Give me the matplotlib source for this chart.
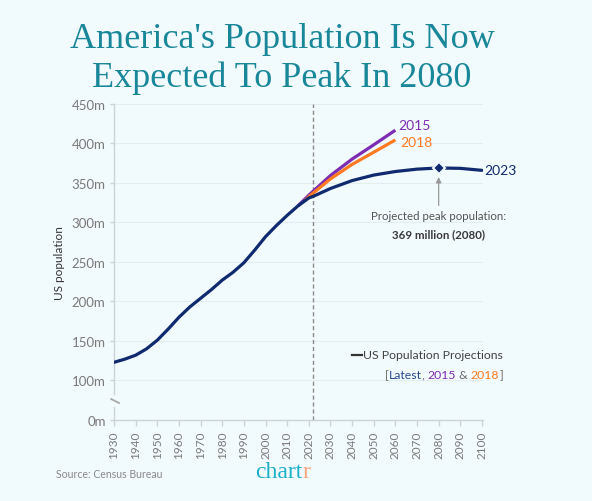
import matplotlib
matplotlib.use("Agg")
import matplotlib.pyplot as plt
from matplotlib.lines import Line2D

# ---------------- data ----------------
hist_years = [1930, 1935, 1940, 1945, 1950, 1955, 1960, 1965, 1970, 1975, 1980,
              1985, 1990, 1995, 2000, 2005, 2010, 2015, 2020, 2022]
hist_pop = [123, 127, 132, 140, 151, 165, 180, 193, 204, 215, 227,
            237, 249, 265, 282, 296, 309, 321, 331, 333]

proj2023_years = [2022, 2030, 2040, 2050, 2060, 2070, 2080, 2090, 2100]
proj2023_pop = [333, 343, 353, 360, 364.5, 367.5, 369, 368.5, 366]

proj2015_years = [2015, 2020, 2030, 2040, 2050, 2060]
proj2015_pop = [321, 334.5, 359.4, 380.2, 398.3, 416.8]

proj2018_years = [2018, 2020, 2030, 2040, 2050, 2060]
proj2018_pop = [327, 332.6, 355.1, 373.5, 388.9, 404.5]

peak_year, peak_pop = 2080, 369
ytick_vals = [50, 100, 150, 200, 250, 300, 350, 400, 450]
ytick_labels = ["0m", "100m", "150m", "200m", "250m", "300m", "350m", "400m", "450m"]
xtick_vals = list(range(1930, 2101, 10))

# ---------------- style ----------------
BG = "#F1FAFC"
NAVY = "#0F2A6E"
PURPLE = "#7D2DB3"
ORANGE = "#FF7A21"
GRAY = "#7A7A7A"
TEAL = "#19879A"
SANS = ["Lato", "DejaVu Sans"]
W, H = 592, 502

fig = plt.figure(figsize=(5.92, 5.02), dpi=100, facecolor=BG)
ax = fig.add_axes([0.1926, 0.1614, 0.6233, 0.6295], facecolor=BG)

ax.set_xlim(1930, 2100.5)
ax.set_ylim(50, 450)

for y in ytick_vals[1:]:
    ax.axhline(y, color="#E3EEF1", lw=0.8, zorder=0)

ax.axvline(2022, color="#8A8A8A", lw=1.0, ls=(0, (3, 2)), zorder=1)

ax.plot(proj2015_years, proj2015_pop, color=PURPLE, lw=2.3, solid_capstyle="butt", zorder=3)
ax.plot(proj2018_years, proj2018_pop, color=ORANGE, lw=2.3, solid_capstyle="butt", zorder=3)
ax.plot(hist_years, hist_pop, color=NAVY, lw=2.3, zorder=4, solid_capstyle="round")
ax.plot(proj2023_years, proj2023_pop, color=NAVY, lw=2.3, zorder=4, solid_capstyle="round")
ax.plot([peak_year], [peak_pop], marker="D", ms=6, color=NAVY,
        markeredgecolor=BG, markeredgewidth=1.5, zorder=5)

# series labels
ax.text(2061.5, 423.5, "2015", color=PURPLE, fontsize=10, family=SANS, va="center", ha="left")
ax.text(2062.5, 402, "2018", color=ORANGE, fontsize=10, family=SANS, va="center", ha="left")
ax.text(2101.0, 366.6, "2023", color=NAVY, fontsize=10, family=SANS, va="center", ha="left",
        clip_on=False)

# annotation
ax.annotate("", xy=(peak_year, 361), xytext=(peak_year, 318),
            arrowprops=dict(arrowstyle="-|>", color="#9A9A9A", lw=0.9, mutation_scale=8))
ax.text(peak_year, 309, "Projected peak population:", ha="center", va="center",
        fontsize=8.3, color="#555555", family=SANS)
ax.text(peak_year, 286, "369 million (2080)", ha="center", va="center",
        fontsize=8.3, color="#3A3A3A", family=SANS, fontweight="bold")

# spines and ticks
for s in ["top", "right", "left"]:
    ax.spines[s].set_visible(False)
ax.spines["bottom"].set_color("#CCD3D6")
ax.spines["bottom"].set_linewidth(1.0)
ax.plot([1930, 1930], [50, 66], color="#CCD3D6", lw=1.0, clip_on=False, zorder=2)
ax.plot([1930, 1930], [83, 450], color="#CCD3D6", lw=1.0, clip_on=False, zorder=2)
ax.plot([1928.7, 1932.3], [76.5, 71.5], color="#A8A8A8", lw=1.3, clip_on=False, zorder=2)

ax.set_yticks(ytick_vals)
ax.set_yticklabels(ytick_labels)
ax.set_xticks(xtick_vals)
ax.set_xticklabels([str(v) for v in xtick_vals], rotation=90)
ax.tick_params(axis="both", colors="#CCD3D6", labelcolor=GRAY, labelsize=8.5, length=4, width=1.0)
ax.tick_params(axis="y", length=3, pad=3, labelsize=9.5)
for lab in ax.get_xticklabels() + ax.get_yticklabels():
    lab.set_family(SANS)

ax.set_ylabel("US population", fontsize=8.5, color="#333333", family=SANS, labelpad=5)

# legend-like text
fig.add_artist(Line2D([352 / W, 362 / W], [1 - 355.5 / H, 1 - 355.5 / H], color="#333333", lw=1.6))
fig.text(503 / W, 1 - 355.5 / H, "US Population Projections", color="#444444", fontsize=8.8,
         family=SANS, va="center", ha="right")
parts = [("[", "#666666"), ("Latest", "#2B4A8F"), (", ", "#666666"), ("2015", PURPLE),
         (" & ", "#666666"), ("2018", ORANGE), ("]", "#666666")]
fig.canvas.draw()
renderer = fig.canvas.get_renderer()
x_right = 503
widths = []
texts = []
for s, c in parts:
    t = fig.text(0, 1 - 375.5 / H, s, color=c, fontsize=8.8, family=SANS, va="center", ha="left")
    texts.append(t)
    widths.append(t.get_window_extent(renderer).width)
x = x_right - sum(widths)
for t, w in zip(texts, widths):
    t.set_x(x / W)
    x += w

# title
TFONT = ["Liberation Serif", "DejaVu Serif"]
fig.text(282 / W, 1 - 48.5 / H, "America's Population Is Now", ha="center", va="baseline",
         fontsize=26, color=TEAL, family=TFONT)
fig.text(282 / W, 1 - 87 / H, "Expected To Peak In 2080", ha="center", va="baseline",
         fontsize=26, color=TEAL, family=TFONT)

# footer
fig.text(56 / W, 1 - 475 / H, "Source: Census Bureau", fontsize=7.6, color="#8A8A8A", family=SANS,
         va="center", ha="left")
c1 = fig.text(0, 1 - 478 / H, "chart", fontsize=17, color="#1BAFC8", family=TFONT,
              va="baseline", ha="left")
c2 = fig.text(0, 1 - 478 / H, "r", fontsize=17, color="#F6A27E", family=TFONT,
              va="baseline", ha="left")
w1 = c1.get_window_extent(renderer).width
w2 = c2.get_window_extent(renderer).width
start = 283 - (w1 + w2) / 2
c1.set_x(start / W)
c2.set_x((start + w1) / W)

fig.savefig("out.png", dpi=100, facecolor=BG)
